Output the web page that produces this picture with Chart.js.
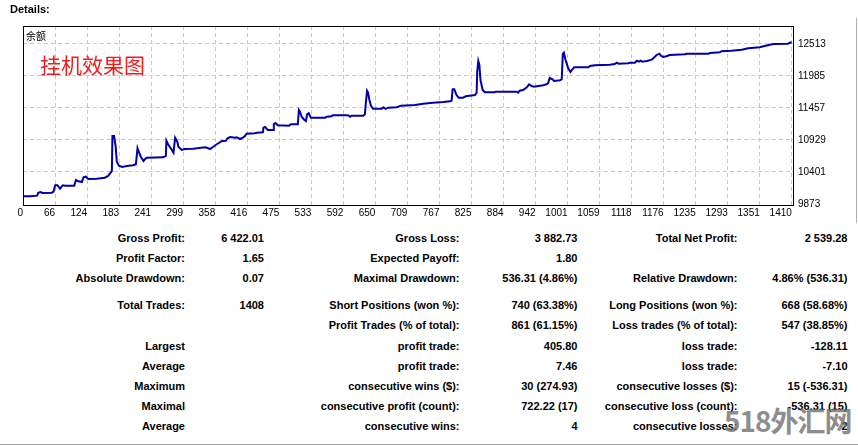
<!DOCTYPE html>
<html>
<head>
<meta charset="utf-8">
<script src="https://cdn.jsdelivr.net/npm/chart.js@4.4.1/dist/chart.umd.min.js"></script>
<style>
  body { margin: 0; background: #fff; font-family: "Liberation Sans", Arial, sans-serif; }
  #wrap { position: relative; width: 858px; height: 445px; overflow: hidden; }
  #chart { position: absolute; left: 0; top: 0; }
  .t { position: absolute; font-size: 11px; font-weight: bold; color: #000; white-space: nowrap; line-height: 14px; }
  #title { left: 10px; top: 2px; }
  #balLabel { position: absolute; left: 26px; top: 28px; font: 10px "Noto Sans CJK SC", sans-serif; color: #000; }
  #note { position: absolute; left: 40px; top: 54px; font: 21px/21px "Noto Sans CJK SC", sans-serif; color: #f21c1c; }
  #frameR { position: absolute; left: 856px; top: 18px; width: 1px; height: 205px; background: #b0b0b0; }
  #bottomLine { position: absolute; left: 0; top: 444px; width: 858px; height: 1px; background: #a0a0a0; }
  #wm { position: absolute; left: 724px; top: 404px; font: bold 28px/32px "Noto Sans CJK SC", sans-serif; color: rgba(110,110,110,0.8); letter-spacing: -1px; }
</style>
</head>
<body>
<div id="wrap">
  <canvas id="chart" width="858" height="222"></canvas>
  <div class="t" id="title">Details:</div>
  <div id="balLabel">余额</div>
  <div id="note">挂机效果图</div>
  <div id="frameR"></div>
  <div id="bottomLine"></div>
</div>
<script>
// balance curve (trade number / balance)
const trades = [
  0, 13, 26, 28, 32, 36, 53, 56, 59, 63,
  68, 73, 77, 94, 97, 100, 108, 111, 115, 120,
  135, 150, 156, 163, 164, 167, 170, 172, 176, 182,
  190, 202, 207, 210, 211, 216, 221, 224, 227, 257,
  262, 263, 266, 273, 276, 279, 283, 285, 291, 297,
  312, 334, 337, 343, 349, 354, 365, 372, 375, 380,
  389, 392, 398, 404, 407, 410, 425, 429, 440, 441,
  444, 449, 459, 460, 463, 467, 488, 491, 504, 506,
  508, 511, 516, 519, 521, 524, 528, 554, 557, 566,
  568, 596, 600, 603, 624, 627, 629, 631, 633, 635,
  638, 642, 658, 661, 665, 670, 685, 688, 693, 719,
  734, 752, 771, 783, 786, 788, 791, 795, 799, 807,
  812, 829, 832, 833, 835, 837, 839, 843, 847, 865,
  867, 905, 908, 911, 917, 924, 928, 933, 937, 954,
  960, 963, 966, 971, 974, 985, 988, 990, 992, 995,
  1000, 1004, 1008, 1011, 1037, 1040, 1049, 1076, 1085, 1089,
  1092, 1110, 1113, 1122, 1126, 1130, 1133, 1136, 1144, 1153,
  1158, 1162, 1167, 1170, 1174, 1180, 1186, 1214, 1217, 1257,
  1260, 1278, 1281, 1299, 1318, 1330, 1351, 1360, 1370, 1376,
  1403, 1406, 1410
];
const balance = [
  10000, 10000, 10010, 10059, 10071, 10055, 10059, 10076, 10182, 10182,
  10125, 10182, 10175, 10175, 10269, 10253, 10236, 10314, 10323, 10285,
  10290, 10307, 10335, 10413, 10995, 10995, 10818, 10571, 10505, 10483,
  10500, 10511, 10528, 10792, 10764, 10653, 10582, 10615, 10637, 10643,
  10665, 10917, 10858, 10764, 10719, 10967, 10901, 10818, 10764, 10780,
  10786, 10809, 10802, 10780, 10818, 10851, 10912, 10917, 10957, 10978,
  10967, 10973, 10945, 10973, 10995, 11033, 11040, 11049, 11056, 11132,
  11143, 11094, 11094, 11193, 11210, 11172, 11165, 11188, 11188, 11424,
  11396, 11313, 11259, 11242, 11353, 11370, 11297, 11297, 11313, 11320,
  11337, 11337, 11313, 11330, 11330, 11353, 11561, 11742, 11709, 11601,
  11495, 11445, 11445, 11469, 11441, 11462, 11469, 11478, 11495, 11506,
  11528, 11544, 11556, 11567, 11577, 11766, 11766, 11671, 11627, 11627,
  11650, 11671, 11709, 12056, 12232, 12166, 11919, 11754, 11716, 11716,
  11726, 11726, 11709, 11742, 11754, 11798, 11848, 11820, 11808, 11832,
  11848, 11865, 11952, 11931, 11903, 11914, 11931, 12348, 12369, 12249,
  12112, 12051, 12100, 12129, 12129, 12150, 12162, 12172, 12183, 12204,
  12188, 12195, 12204, 12204, 12237, 12221, 12237, 12221, 12232, 12254,
  12294, 12332, 12353, 12320, 12298, 12310, 12332, 12343, 12353, 12353,
  12364, 12376, 12393, 12402, 12419, 12442, 12459, 12480, 12501, 12513,
  12518, 12534, 12539
];

const xLabels = ['0', '66', '124', '183', '241', '299', '358', '416', '475', '533', '592', '650', '709',
  '767', '825', '884', '942', '1001', '1059', '1118', '1176', '1235', '1293', '1351', '1410'];
const yTicks = [9873, 10401, 10929, 11457, 11985, 12513];

// report table
const rows = [
  [238, 'Gross Profit:', '6 422.01', 'Gross Loss:', '3 882.73', 'Total Net Profit:', '2 539.28'],
  [258, 'Profit Factor:', '1.65', 'Expected Payoff:', '1.80', '', ''],
  [278, 'Absolute Drawdown:', '0.07', 'Maximal Drawdown:', '536.31 (4.86%)', 'Relative Drawdown:', '4.86% (536.31)'],
  [305.5, 'Total Trades:', '1408', 'Short Positions (won %):', '740 (63.38%)', 'Long Positions (won %):', '668 (58.68%)'],
  [325.5, '', '', 'Profit Trades (% of total):', '861 (61.15%)', 'Loss trades (% of total):', '547 (38.85%)'],
  [346, 'Largest', '', 'profit trade:', '405.80', 'loss trade:', '-128.11'],
  [366, 'Average', '', 'profit trade:', '7.46', 'loss trade:', '-7.10'],
  [386, 'Maximum', '', 'consecutive wins ($):', '30 (274.93)', 'consecutive losses ($):', '15 (-536.31)'],
  [406, 'Maximal', '', 'consecutive profit (count):', '722.22 (17)', 'consecutive loss (count):', '-536.31 (15)'],
  [426, 'Average', '', 'consecutive wins:', '4', 'consecutive losses:', '2']
];
const colRight = [185, 264, 459.5, 577.5, 737.5, 847.5];

const wrap = document.getElementById('wrap');
rows.forEach(r => {
  for (let c = 0; c < 6; c++) {
    if (!r[c + 1]) continue;
    const d = document.createElement('div');
    d.className = 't';
    d.textContent = r[c + 1];
    d.style.right = (858 - colRight[c]) + 'px';
    d.style.top = (r[0] - 7.5) + 'px';
    wrap.appendChild(d);
  }
});
const wm = document.createElement('div');
wm.id = 'wm';
wm.textContent = '518外汇网';
wrap.appendChild(wm);

// black frame round the plot
const framePlugin = {
  id: 'frame',
  afterDraw(chart) {
    const a = chart.chartArea, ctx = chart.ctx;
    ctx.save();
    ctx.strokeStyle = '#000';
    ctx.lineWidth = 1;
    ctx.strokeRect(a.left + 0.5, a.top + 0.5, a.right - a.left - 1, a.bottom - a.top);
    ctx.restore();
  }
};

const axisFont = { family: 'Liberation Sans', size: 10 };

new Chart(document.getElementById('chart').getContext('2d'), {
  type: 'line',
  data: {
    datasets: [{
      data: trades.map((t, i) => ({ x: t, y: balance[i] })),
      borderColor: '#0000aa',
      borderWidth: 2,
      pointRadius: 0,
      tension: 0,
      fill: false
    }]
  },
  options: {
    responsive: false,
    animation: false,
    layout: { padding: { left: 23, top: 26, right: 4, bottom: 0 } },
    plugins: { legend: { display: false }, tooltip: { enabled: false } },
    scales: {
      x: {
        type: 'linear',
        min: 0,
        max: 1414,
        afterBuildTicks: s => { s.ticks = xLabels.map((l, i) => ({ value: i * 1410 / 24 })); },
        afterFit: s => { s.height = 17; },
        ticks: {
          autoSkip: false,
          maxRotation: 0,
          align: 'end',
          padding: 2,
          color: '#000',
          font: axisFont,
          callback: (v, i) => xLabels[i]
        },
        grid: { color: '#c8c8c8', drawTicks: false },
        border: { display: false, dash: [4, 3] }
      },
      y: {
        position: 'right',
        min: 9856,
        max: 12810,
        afterBuildTicks: s => { s.ticks = yTicks.map(v => ({ value: v })); },
        afterFit: s => { s.width = 60; },
        ticks: {
          padding: 4,
          color: '#000',
          font: axisFont,
          callback: v => String(v)
        },
        grid: { color: c => c.index === 0 ? 'rgba(0,0,0,0)' : '#c8c8c8', drawTicks: false },
        border: { display: false, dash: [4, 3] }
      }
    }
  },
  plugins: [framePlugin]
});
</script>
</body>
</html>
